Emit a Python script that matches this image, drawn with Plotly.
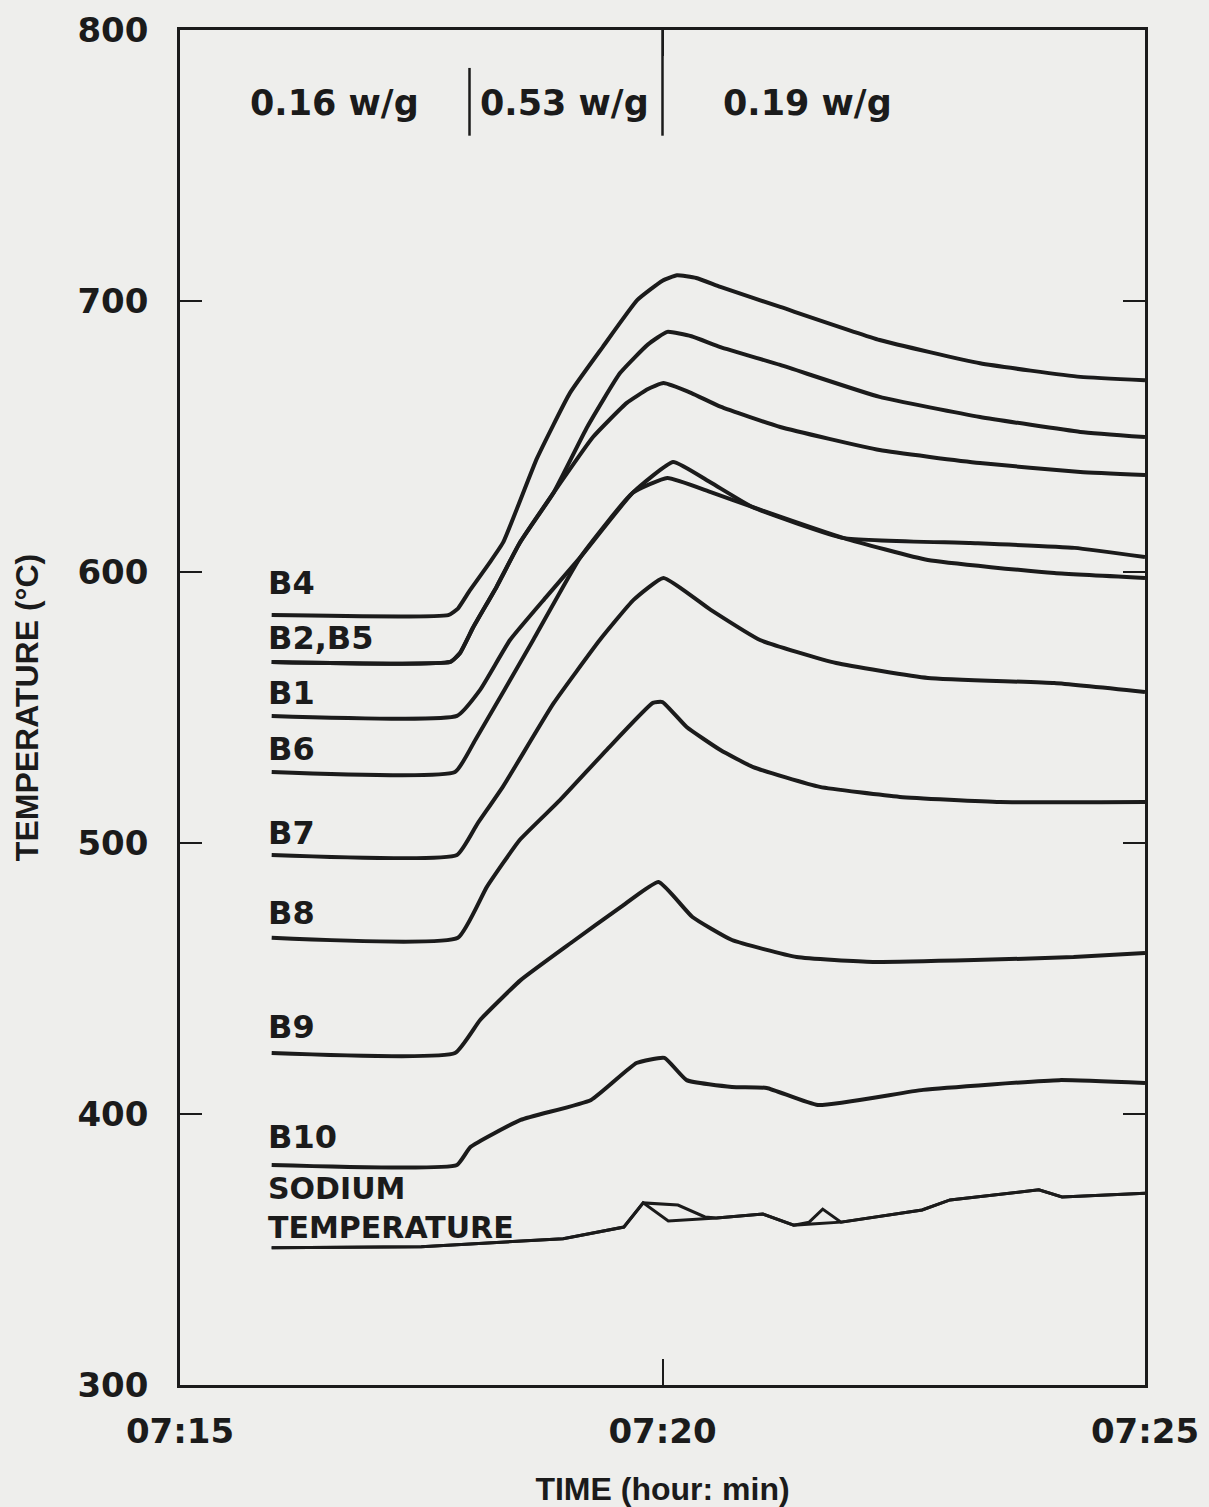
import plotly.graph_objects as go

# ---- axis definitions (x = minutes after 07:15) ----
x_tick_minutes = [0, 5, 10]
x_tick_labels = ["07:15", "07:20", "07:25"]
y_tick_values = [300, 400, 500, 600, 700, 800]

# ---- power steps ----
power_change_minutes = [3, 5]
power_labels = ["0.16 w/g", "0.53 w/g", "0.19 w/g"]
power_label_minutes = [1.6, 3.98, 6.5]

# ---- thermocouple traces (minutes after 07:15, temperature degC) ----
b4_t = [0.95, 2.78, 2.88, 3.0, 3.2, 3.35, 3.7, 4.04, 4.38, 4.74, 5.0, 5.15, 5.35, 5.6, 6.22, 7.25, 8.29, 9.33, 10.0]
b4_v = [584.1, 584.1, 586.5, 593.0, 603.0, 611.0, 642.0, 666.0, 683.0, 700.4, 707.5, 709.5, 708.5, 705.2, 697.8, 685.6, 677.0, 672.0, 670.8]

b2_t = [0.95, 2.8, 2.9, 3.04, 3.28, 3.52, 3.87, 4.22, 4.56, 4.85, 5.05, 5.3, 5.6, 6.22, 7.25, 8.29, 9.33, 10.0]
b2_v = [566.8, 566.8, 570.0, 579.7, 594.5, 610.7, 629.2, 653.5, 673.4, 684.0, 688.6, 687.0, 683.0, 676.4, 664.6, 657.2, 651.7, 649.8]

b5_t = [0.95, 2.8, 2.9, 3.04, 3.28, 3.52, 3.87, 4.28, 4.63, 4.85, 5.01, 5.3, 5.6, 6.22, 7.25, 8.29, 9.33, 10.0]
b5_v = [566.8, 566.8, 570.0, 579.7, 594.5, 610.7, 629.2, 649.8, 662.4, 667.5, 669.7, 666.0, 661.0, 653.5, 645.0, 640.2, 636.9, 635.8]

b1_t = [0.95, 2.87, 3.11, 3.42, 3.8, 4.15, 4.69, 5.11, 5.5, 5.93, 6.88, 8.19, 9.27, 10.0]
b1_v = [546.9, 546.9, 556.5, 574.9, 591.0, 605.5, 629.2, 640.6, 633.0, 624.0, 612.5, 610.7, 608.9, 605.5]

b6_t = [0.95, 2.85, 3.06, 3.66, 4.15, 4.69, 5.05, 5.5, 5.93, 6.88, 7.75, 9.06, 10.0]
b6_v = [526.2, 526.2, 538.0, 574.9, 605.5, 629.2, 634.7, 629.5, 624.0, 612.5, 604.4, 599.6, 597.8]

b7_t = [0.95, 2.87, 3.08, 3.35, 3.87, 4.35, 4.70, 5.01, 5.5, 6.01, 6.8, 7.75, 9.06, 10.0]
b7_v = [495.6, 495.6, 507.0, 521.0, 551.5, 574.9, 589.7, 597.8, 586.0, 574.9, 566.4, 560.9, 559.0, 555.7]

b8_t = [0.95, 2.88, 3.18, 3.52, 3.94, 4.42, 4.90, 5.0, 5.25, 5.6, 5.94, 6.63, 7.46, 8.5, 10.0]
b8_v = [465.0, 465.0, 483.8, 501.1, 515.9, 534.3, 551.7, 552.0, 542.8, 534.3, 528.0, 520.7, 517.0, 515.1, 515.1]

b9_t = [0.95, 2.85, 3.11, 3.53, 4.05, 4.57, 4.96, 5.31, 5.72, 6.39, 7.18, 8.23, 9.26, 10.0]
b9_v = [422.5, 422.5, 434.7, 449.4, 463.1, 476.4, 485.6, 472.7, 464.2, 457.9, 456.1, 456.8, 457.9, 459.4]

b10_t = [0.95, 2.87, 3.01, 3.53, 4.26, 4.73, 5.02, 5.25, 5.72, 6.08, 6.61, 7.7, 9.11, 10.0]
b10_v = [381.2, 381.2, 387.8, 397.8, 405.2, 418.8, 420.7, 412.5, 410.0, 409.6, 403.3, 408.9, 412.5, 411.4]

na_a_t = [0.95, 2.5, 3.97, 4.6, 4.8, 5.06, 5.56, 6.04, 6.36, 6.85, 7.69, 7.98, 8.9, 9.14, 10.0]
na_a_v = [350.6, 351.0, 354.0, 358.3, 367.2, 360.5, 361.6, 363.1, 359.0, 360.1, 364.6, 368.3, 372.0, 369.4, 370.8]

na_b_t = [0.95, 2.5, 3.97, 4.6, 4.8, 5.16, 5.44, 5.56, 6.04, 6.36, 6.52, 6.66, 6.85, 7.69, 7.98, 8.9, 9.14, 10.0]
na_b_v = [350.6, 351.0, 354.0, 358.3, 367.2, 366.4, 362.0, 361.6, 363.1, 359.0, 360.1, 364.9, 360.1, 364.6, 368.3, 372.0, 369.4, 370.8]

INK = "#1b1b1b"
BG = "#eeeeec"

fig = go.Figure()

smooth_series = [
    ("B4", b4_t, b4_v), ("B2", b2_t, b2_v), ("B5", b5_t, b5_v),
    ("B1", b1_t, b1_v), ("B6", b6_t, b6_v), ("B7", b7_t, b7_v),
    ("B8", b8_t, b8_v), ("B9", b9_t, b9_v), ("B10", b10_t, b10_v),
]
for name, t, v in smooth_series:
    fig.add_trace(go.Scatter(x=t, y=v, mode="lines", name=name,
                             line=dict(color=INK, width=4, shape="spline", smoothing=0.4)))
for name, t, v in [("Sodium", na_a_t, na_a_v), ("Sodium (2)", na_b_t, na_b_v)]:
    fig.add_trace(go.Scatter(x=t, y=v, mode="lines", name=name,
                             line=dict(color=INK, width=3)))

# power-step dividers
fig.add_shape(type="line", xref="x", yref="y", x0=power_change_minutes[0], x1=power_change_minutes[0],
              y0=761, y1=786, line=dict(color=INK, width=2.5))
fig.add_shape(type="line", xref="x", yref="y", x0=power_change_minutes[1], x1=power_change_minutes[1],
              y0=761, y1=800, line=dict(color=INK, width=2.5))

annotations = []
for lbl, xm in zip(power_labels, power_label_minutes):
    annotations.append(dict(x=xm, y=773, xref="x", yref="y", text="<b>" + lbl + "</b>",
                            showarrow=False, font=dict(family="DejaVu Sans", size=35, color=INK)))

curve_labels = [("B4", b4_v[0], 32), ("B2,B5", b2_v[0], 24), ("B1", b1_v[0], 23), ("B6", b6_v[0], 23),
                ("B7", b7_v[0], 22), ("B8", b8_v[0], 25), ("B9", b9_v[0], 26), ("B10", b10_v[0], 28)]
for txt, yv, ys in curve_labels:
    annotations.append(dict(x=b4_t[0], y=yv, xref="x", yref="y", text="<b>" + txt + "</b>",
                            xanchor="left", yanchor="middle", xshift=-6, yshift=ys, showarrow=False,
                            font=dict(family="DejaVu Sans", size=32, color=INK)))

# sodium label (two lines in one text)
annotations.append(dict(x=na_a_t[0], y=na_a_v[0], xref="x", yref="y",
                        text="<b>SODIUM<br>TEMPERATURE</b>", align="left",
                        xanchor="left", yanchor="bottom", xshift=-6, yshift=1, showarrow=False,
                        font=dict(family="DejaVu Sans", size=30, color=INK)))

fig.update_layout(
    width=1209, height=1507,
    margin=dict(l=180, r=64, t=30, b=122),
    paper_bgcolor=BG, plot_bgcolor=BG,
    showlegend=False,
    annotations=annotations,
    xaxis=dict(range=[0, 10], tickvals=x_tick_minutes, ticktext=x_tick_labels,
               automargin=False,
               showgrid=False, zeroline=False, showline=True, linecolor=INK, linewidth=2.5,
               mirror="ticks", ticks="inside", ticklen=26, tickwidth=2, tickcolor=INK,
               ticklabelstandoff=14,
               tickfont=dict(family="DejaVu Sans", size=34, color=INK, weight="bold"),
               title=dict(text="<b>TIME (hour: min)</b>", standoff=36,
                          font=dict(family="Liberation Sans", size=32, color=INK))),
    yaxis=dict(range=[300, 800], tickvals=y_tick_values,
               automargin=False,
               showgrid=False, zeroline=False, showline=True, linecolor=INK, linewidth=2.5,
               mirror="ticks", ticks="inside", ticklen=22, tickwidth=2, tickcolor=INK,
               ticklabelstandoff=22,
               tickfont=dict(family="DejaVu Sans", size=34, color=INK, weight="bold"),
               title=dict(text="<b>TEMPERATURE (°C)</b>", standoff=30,
                          font=dict(family="Liberation Sans", size=32, color=INK))),
)

fig.write_html("out.html")
